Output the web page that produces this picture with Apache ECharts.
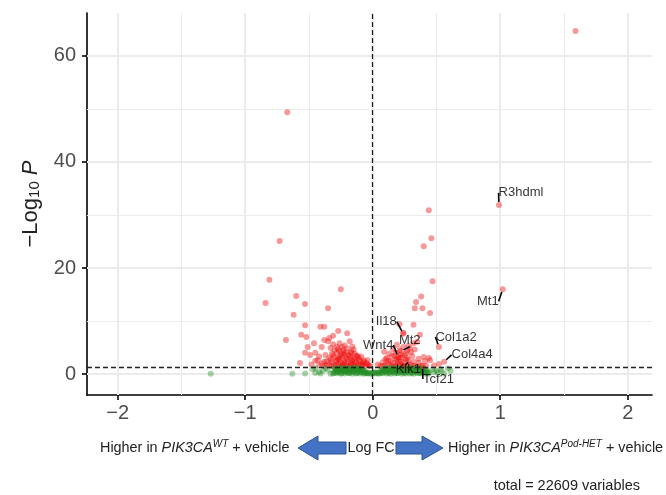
<!DOCTYPE html>
<html>
<head>
<meta charset="utf-8">
<script src="https://cdn.jsdelivr.net/npm/echarts@6/dist/echarts.min.js"></script>
<style>html,body{margin:0;padding:0;background:#fff}#main{width:666px;height:495px}</style>
</head>
<body>
<div id="main"></div>
<script>
// axis ticks / thresholds
const xTicks = [-2, -1, 0, 1, 2];
const xMinor = [-1.5, -0.5, 0.5, 1.5];
const yTicks = [0, 20, 40, 60];
const yMinor = [10, 30, 50];
const pCutoff = 1.3;   // -log10(0.05)
const fcCutoff = 0;

// labelled genes
const geneNames = ['R3hdml', 'Mt1', 'Il18', 'Mt2', 'Wnt4', 'Col1a2', 'Col4a4', 'Klk1', 'Tcf21'];
const geneX = [0.99, 1.02, 0.24, 0.22, 0.20, 0.52, 0.56, 0.24, 0.39];
const geneY = [31.9, 16.0, 7.6, 4.3, 3.2, 5.1, 2.3, 1.5, 1.5];

// significant (p < 0.05) genes, [logFC, -log10 P]
const sigPts = [
  [1.59,64.7],[-0.67,49.4],[-0.73,25.1],[-0.81,17.8],[-0.84,13.4],[-0.60,14.7],[-0.53,13.2],[-0.25,16.0],[-0.35,12.4],[-0.62,11.2],
  [0.44,30.9],[0.46,25.6],[0.40,24.1],[0.47,17.5],
  [-0.53,9.2],[-0.41,8.9],[-0.38,8.9],[-0.27,8.1],[-0.20,7.7],[-0.56,7.4],[-0.52,7.0],[-0.31,7.2],[-0.34,6.8],[-0.68,6.4],
  [-0.46,5.8],[-0.38,6.4],[-0.35,6.2],[-0.18,6.2],[-0.51,5.1],[-0.40,5.1],[-0.24,5.1],[-0.53,4.0],[-0.45,4.0],[-0.57,2.1],
  [-0.45,2.5],[-0.49,3.6],[-0.42,3.3],[-0.33,4.9],[-0.28,5.1],[-0.26,5.8],[-0.23,4.5],[-0.17,4.2],[-0.12,3.4],[-0.07,2.6],
  [-0.37,3.6],[-0.43,2.6],[-0.38,2.3],[-0.48,1.8],[-0.42,1.6],[-0.40,2.0],
  [-0.38,1.5],[-0.34,1.8],[-0.30,1.5],[-0.27,1.9],[-0.24,1.5],[-0.21,1.7],[-0.18,1.5],[-0.15,1.8],[-0.12,1.5],[-0.09,1.7],
  [-0.06,1.5],[-0.03,1.6],[-0.36,2.4],[-0.32,2.2],[-0.28,2.6],[-0.25,2.2],[-0.22,2.5],[-0.19,2.3],[-0.16,2.6],[-0.13,2.2],
  [-0.10,2.4],[-0.05,2.1],[-0.34,3.0],[-0.30,3.2],[-0.27,2.9],[-0.24,3.3],[-0.21,3.0],[-0.18,3.4],[-0.15,2.9],[-0.11,3.1],
  [-0.08,2.0],[-0.32,3.8],[-0.28,4.0],[-0.25,3.7],[-0.21,4.1],[-0.19,3.6],[-0.14,3.8],[-0.30,4.5],[-0.26,4.3],[-0.20,4.8],
  [-0.15,4.6],
  [-0.36,1.7],[-0.32,1.5],[-0.29,1.7],[-0.26,1.5],[-0.23,1.8],[-0.20,1.5],[-0.17,1.9],[-0.14,1.5],[-0.11,1.8],[-0.08,1.5],
  [-0.04,1.8],[-0.02,1.5],[-0.33,2.7],[-0.29,2.4],[-0.26,2.8],[-0.23,2.1],[-0.20,2.8],[-0.17,2.1],[-0.14,2.5],[-0.11,2.7],
  [-0.07,2.3],[-0.04,2.6],[-0.31,3.5],[-0.26,3.2],[-0.22,3.6],[-0.17,3.1],[-0.13,3.5],[-0.09,3.3],[-0.23,4.0],[-0.17,4.0],
  [-0.27,4.7],[-0.22,5.4],[-0.16,5.2],[-0.31,5.6],
  [0.38,14.6],[0.34,13.6],[0.33,12.4],[0.39,12.4],[0.45,11.5],[0.21,9.4],[0.32,9.3],[0.37,7.4],[0.35,6.1],[0.24,7.8],
  [0.44,3.0],[0.40,3.2],[0.45,2.6],[0.32,5.8],[0.24,5.1],[0.09,4.2],[0.27,4.4],
  [0.06,1.5],[0.10,1.7],[0.14,1.5],[0.18,1.6],[0.22,1.8],[0.26,1.5],[0.30,1.7],[0.34,1.5],[0.38,1.6],[0.42,1.5],
  [0.08,2.2],[0.12,2.5],[0.16,2.1],[0.20,2.4],[0.24,2.2],[0.28,2.6],[0.32,2.3],[0.36,2.1],[0.41,2.4],
  [0.11,3.0],[0.15,3.3],[0.19,2.9],[0.23,3.2],[0.27,3.0],[0.31,3.4],[0.36,2.9],
  [0.13,3.8],[0.18,4.0],[0.22,3.7],[0.26,3.9],[0.30,4.1],[0.16,4.7],[0.21,4.5],[0.29,4.8],[0.33,4.6],[0.19,5.5],[0.28,5.3],
  [0.04,1.8],[0.08,1.5],[0.12,1.9],[0.16,1.5],[0.20,1.9],[0.24,1.5],[0.28,1.9],[0.32,1.5],[0.10,2.8],[0.14,2.4],
  [0.18,2.7],[0.22,2.3],[0.26,2.7],[0.17,3.5],[0.21,3.1],[0.25,3.5],[0.48,1.6],[0.52,1.9]
];

// not significant genes
const nsPts = [
  [-1.27,0.05],[-0.63,0.05],[-0.53,0.1],[-0.47,0.9],[-0.45,0.2],[-0.41,0.1],[-0.35,0.75],[-0.33,0.05],[-0.45,1.1],
  [-0.39,0.6],[-0.37,1.1],[-0.42,0.4],
  [0.48,0.4],[0.53,0.9],[0.59,1.1],[0.56,0.1],[0.51,0.2],[0.47,0.9],[0.50,0.6],[0.54,0.5],[0.61,0.6],
  [-0.31,0.1],[-0.28,0.15],[-0.25,0.05],[-0.22,0.1],[-0.19,0.15],[-0.16,0.05],[-0.13,0.1],[-0.10,0.1],[-0.07,0.05],
  [-0.04,0.1],[-0.01,0.05],[0.02,0.1],[0.05,0.05],[0.08,0.15],[0.11,0.1],[0.14,0.05],[0.17,0.1],[0.20,0.15],[0.23,0.05],
  [0.26,0.1],[0.29,0.1],[0.32,0.05],[0.35,0.15],[0.38,0.1],[0.41,0.05],[0.44,0.1],
  [-0.30,0.55],[-0.27,0.5],[-0.24,0.6],[-0.21,0.55],[-0.18,0.5],[-0.15,0.6],[-0.12,0.55],[-0.09,0.5],[-0.06,0.45],
  [-0.03,0.3],[0.0,0.25],[0.03,0.35],
  [0.06,0.5],[0.09,0.55],[0.12,0.6],[0.15,0.5],[0.18,0.55],[0.21,0.6],[0.24,0.5],[0.27,0.55],[0.30,0.6],[0.33,0.5],
  [0.36,0.55],[0.39,0.5],[0.42,0.45],
  [-0.29,1.0],[-0.26,0.95],[-0.23,1.05],[-0.20,1.0],[-0.17,0.95],[-0.14,1.05],[-0.11,1.0],[-0.08,0.9],
  [0.08,0.95],[0.11,1.0],[0.14,1.05],[0.17,0.95],[0.20,1.0],[0.23,1.05],[0.26,0.95],[0.29,1.0],[0.32,1.05],[0.35,0.95],
  [0.38,1.0],
  [-0.295,0.3],[-0.265,0.35],[-0.235,0.3],[-0.205,0.35],[-0.175,0.3],[-0.145,0.35],[-0.115,0.3],[-0.085,0.3],[-0.055,0.2],
  [0.075,0.3],[0.105,0.35],[0.135,0.3],[0.165,0.35],[0.195,0.3],[0.225,0.35],[0.255,0.3],[0.285,0.35],[0.315,0.3],
  [0.345,0.35],[0.375,0.3],[0.405,0.25],[0.435,0.3],
  [-0.285,0.8],[-0.255,0.75],[-0.225,0.8],[-0.195,0.8],[-0.165,0.75],[-0.135,0.8],[-0.105,0.75],[-0.075,0.7],
  [0.085,0.75],[0.115,0.8],[0.145,0.75],[0.175,0.8],[0.205,0.75],[0.235,0.8],[0.265,0.75],[0.295,0.8],[0.325,0.75],
  [0.355,0.8],[0.385,0.75],[0.415,0.7],
  [-0.30,1.2],[-0.25,1.2],[-0.20,1.2],[-0.15,1.2],[-0.10,1.15],[0.10,1.15],[0.15,1.2],[0.20,1.2],[0.25,1.2],[0.30,1.2],
  [0.35,1.15],[0.40,1.1],[-0.02,0.1],[0.01,0.2],[0.04,0.15],[-0.05,0.25],
  [-0.305,0.2],[-0.275,0.45],[-0.245,0.2],[-0.215,0.45],[-0.185,0.2],[-0.155,0.45],[-0.125,0.2],[-0.095,0.45],[-0.065,0.2],
  [-0.035,0.15],[0.015,0.3],[0.045,0.25],[0.065,0.2],[0.095,0.45],[0.125,0.2],[0.155,0.45],[0.185,0.2],[0.215,0.45],
  [0.245,0.2],[0.275,0.45],[0.305,0.2],[0.335,0.45],[0.365,0.2],[0.395,0.4],[0.425,0.2],
  [-0.28,0.65],[-0.25,0.9],[-0.22,0.65],[-0.19,0.9],[-0.16,0.65],[-0.13,0.9],[-0.10,0.65],[-0.07,0.6],
  [0.07,0.65],[0.10,0.9],[0.13,0.65],[0.16,0.9],[0.19,0.65],[0.22,0.9],[0.25,0.65],[0.28,0.9],[0.31,0.65],[0.34,0.9],
  [0.37,0.65],[0.40,0.85],[0.43,0.6],
  [-0.27,1.1],[-0.21,1.1],[-0.16,1.1],[-0.12,1.1],[0.12,1.1],[0.18,1.1],[0.22,1.1],[0.27,1.1],[0.33,1.1],[0.37,1.15]
];

const font = '"Liberation Sans", Arial, sans-serif';
const chart = echarts.init(document.getElementById('main'));

const gridLines = [];
xTicks.forEach(v => gridLines.push({ xAxis: v, lineStyle: { width: 2 } }));
xMinor.forEach(v => gridLines.push({ xAxis: v, lineStyle: { width: 1 } }));
yTicks.forEach(v => gridLines.push({ yAxis: v, lineStyle: { width: 2 } }));
yMinor.forEach(v => gridLines.push({ yAxis: v, lineStyle: { width: 1 } }));

// where each gene label sits relative to its point (px)
const labelShift = {
  R3hdml: [22, -12], Mt1: [-15, 12], Il18: [-17, -12], Mt2: [9, -11], Wnt4: [-20, -12],
  Col1a2: [17, -10], Col4a4: [28, -7], Klk1: [5, 3], Tcf21: [16, 13]
};

const minus = v => (v < 0 ? '\u2212' + Math.abs(v) : String(v));

const richNote = {
  n: { fontSize: 14.4, fill: '#222', fontFamily: font },
  i: { fontSize: 14.4, fill: '#222', fontFamily: font, fontStyle: 'italic' },
  s: { fontSize: 10, fill: '#222', fontFamily: font, fontStyle: 'italic', verticalAlign: 'top', padding: [0, 0, 8, 0] }
};

chart.setOption({
  animation: false,
  textStyle: { fontFamily: font },
  grid: { left: 87, right: 14, top: 13, bottom: 100 },
  xAxis: {
    type: 'value', min: -2.24, max: 2.19,
    axisLine: { onZero: false, lineStyle: { color: '#000', width: 1.6 } },
    axisTick: { customValues: xTicks, length: 5, lineStyle: { color: '#000', width: 1.6 } },
    axisLabel: { customValues: xTicks, formatter: minus, color: '#4d4d4d', fontSize: 20, margin: 8, fontFamily: font },
    splitLine: { show: false }
  },
  yAxis: {
    type: 'value', min: -3.96, max: 68.1,
    name: '{n|\u2212Log}{s|10}{p| P}', nameLocation: 'middle', nameGap: 43,
    nameTextStyle: {
      rich: {
        n: { fontSize: 22, color: '#222', fontFamily: font },
        s: { fontSize: 15, color: '#222', fontFamily: font, verticalAlign: 'bottom', padding: [8, 0, 0, 0] },
        p: { fontSize: 22, color: '#222', fontFamily: font, fontStyle: 'italic' }
      }
    },
    axisLine: { onZero: false, lineStyle: { color: '#000', width: 1.6 } },
    axisTick: { customValues: yTicks, length: 5, lineStyle: { color: '#000', width: 1.6 } },
    axisLabel: { customValues: yTicks, color: '#4d4d4d', fontSize: 20, margin: 11, fontFamily: font },
    splitLine: { show: false }
  },
  series: [
    {
      type: 'scatter', data: [], silent: true, z: 1,
      markLine: {
        silent: true, z: 1, symbol: ['none', 'none'], label: { show: false },
        lineStyle: { color: '#ebebeb', type: 'solid' },
        data: gridLines
      }
    },
    {
      name: 'P', type: 'scatter', data: sigPts, symbolSize: 6, z: 2,
      itemStyle: { color: 'rgba(238,0,0,0.5)' }
    },
    {
      name: 'NS', type: 'scatter', data: nsPts, symbolSize: 6, z: 3,
      itemStyle: { color: 'rgba(34,139,34,0.5)' }
    },
    {
      name: 'genes', type: 'scatter', z: 4, symbolSize: 6,
      data: geneNames.map((g, i) => ({ name: g, value: [geneX[i], geneY[i]] })),
      itemStyle: { color: 'rgba(238,0,0,0.5)' },
      label: { show: true, position: 'inside', formatter: '{b}', color: '#000', fontSize: 13, fontFamily: font },
      labelLine: { show: true, lineStyle: { color: '#000', width: 1.6 } },
      labelLayout: p => {
        const s = labelShift[geneNames[p.dataIndex]];
        return { dx: s[0], dy: s[1] };
      }
    },
    {
      type: 'scatter', data: [], silent: true, z: 6,
      markLine: {
        silent: true, symbol: ['none', 'none'], label: { show: false },
        lineStyle: { color: '#222', type: [5, 3], width: 1.3 },
        data: [{ xAxis: fcCutoff }, { yAxis: pCutoff }]
      }
    }
  ],
  graphic: [
    {
      type: 'text', x: 100, y: 448,
      style: { text: '{n|Higher in }{i|PIK3CA}{s|WT}{n| + vehicle}', align: 'left', verticalAlign: 'middle', rich: richNote }
    },
    {
      type: 'polygon',
      shape: { points: [[298, 448], [318, 436], [318, 442], [346, 442], [346, 454], [318, 454], [318, 460]] },
      style: { fill: '#4472C4', stroke: '#2F528F', lineWidth: 1 }
    },
    {
      type: 'text', x: 371, y: 448,
      style: { text: 'Log FC', align: 'center', verticalAlign: 'middle', fontSize: 14.4, fill: '#222', fontFamily: font }
    },
    {
      type: 'polygon',
      shape: { points: [[443, 448], [422, 436], [422, 442], [396, 442], [396, 454], [422, 454], [422, 460]] },
      style: { fill: '#4472C4', stroke: '#2F528F', lineWidth: 1 }
    },
    {
      type: 'text', x: 448, y: 448,
      style: { text: '{n|Higher in }{i|PIK3CA}{s|Pod-HET}{n| + vehicle}', align: 'left', verticalAlign: 'middle', rich: richNote }
    },
    {
      type: 'text', x: 640, y: 486,
      style: { text: 'total = 22609 variables', align: 'right', verticalAlign: 'middle', fontSize: 14.5, fill: '#222', fontFamily: font }
    }
  ]
});
</script>
</body>
</html>
